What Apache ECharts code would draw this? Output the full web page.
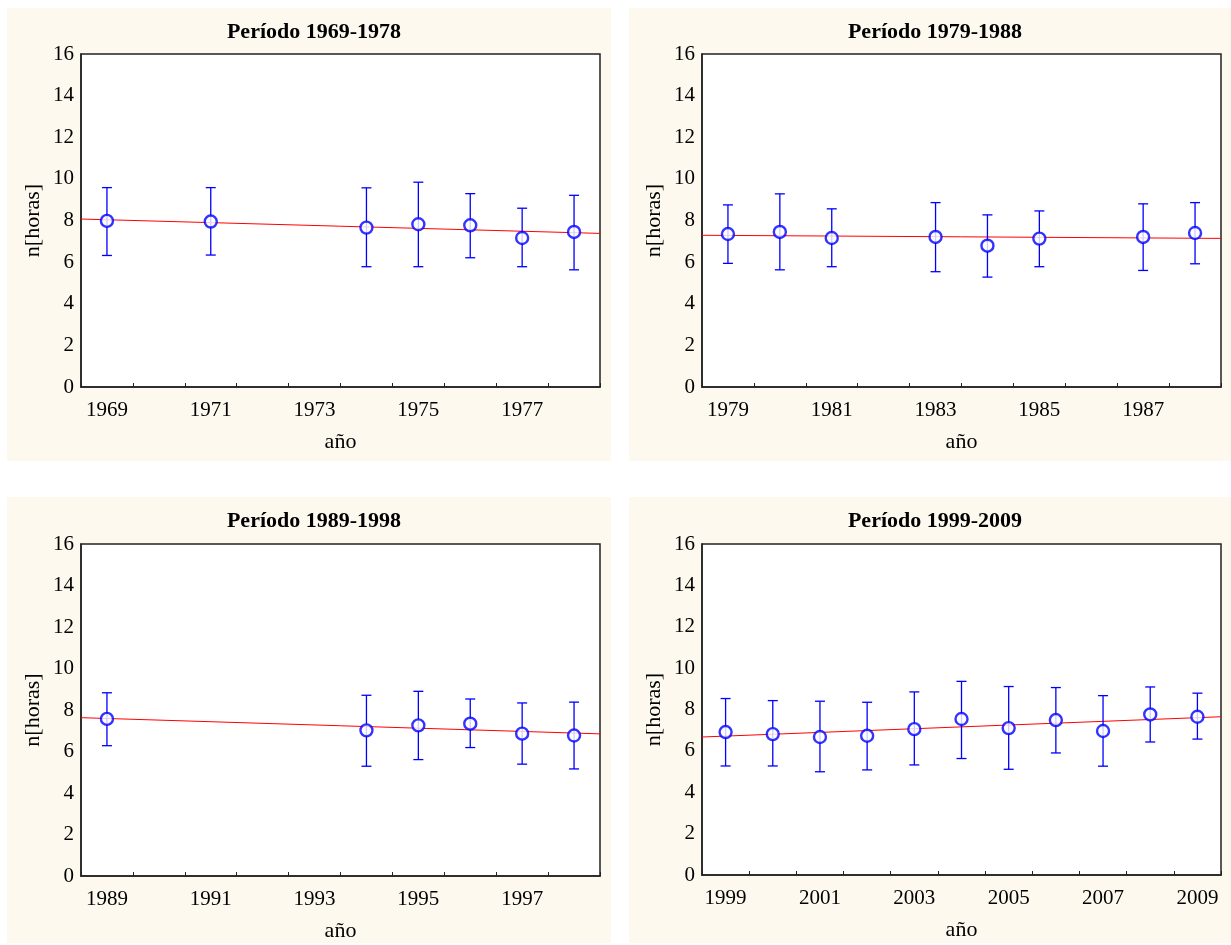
<!DOCTYPE html>
<html>
<head>
<meta charset="utf-8">
<script src="https://cdn.jsdelivr.net/npm/echarts@6/dist/echarts.min.js"></script>
<style>
  html, body { margin: 0; padding: 0; background: #ffffff; }
  #chart { width: 1231px; height: 945px; }
</style>
</head>
<body>
<div id="chart"></div>
<script>
// ---- Data ----
const titles = ['Período 1969-1978', 'Período 1979-1988', 'Período 1989-1998', 'Período 1999-2009'];

const cats1 = ['1969','1970','1971','1972','1973','1974','1975','1976','1977','1978'];
const cats2 = ['1979','1980','1981','1982','1983','1984','1985','1986','1987','1988'];
const cats3 = ['1989','1990','1991','1992','1993','1994','1995','1996','1997','1998'];
const cats4 = ['1999','2000','2001','2002','2003','2004','2005','2006','2007','2008','2009'];

const years1 = [1969, 1971, 1974, 1975, 1976, 1977, 1978];
const mean1  = [7.98, 7.95, 7.66, 7.82, 7.77, 7.16, 7.45];
const low1   = [6.32, 6.34, 5.78, 5.78, 6.21, 5.78, 5.63];
const high1  = [9.58, 9.58, 9.57, 9.84, 9.29, 8.59, 9.21];
const trend1 = [8.07, 7.38];

const years2 = [1979, 1980, 1981, 1983, 1984, 1985, 1987, 1988];
const mean2  = [7.35, 7.45, 7.16, 7.21, 6.79, 7.13, 7.21, 7.40];
const low2   = [5.94, 5.63, 5.78, 5.54, 5.28, 5.78, 5.60, 5.92];
const high2  = [8.75, 9.28, 8.56, 8.86, 8.27, 8.46, 8.80, 8.86];
const trend2 = [7.29, 7.14];

const years3 = [1989, 1994, 1995, 1996, 1997, 1998];
const mean3  = [7.57, 7.02, 7.26, 7.34, 6.86, 6.77];
const low3   = [6.28, 5.29, 5.61, 6.19, 5.39, 5.16];
const high3  = [8.83, 8.71, 8.90, 8.53, 8.34, 8.38];
const trend3 = [7.63, 6.85];

const years4 = [1999, 2000, 2001, 2002, 2003, 2004, 2005, 2006, 2007, 2008, 2009];
const mean4  = [6.91, 6.81, 6.67, 6.73, 7.05, 7.54, 7.10, 7.49, 6.96, 7.76, 7.65];
const low4   = [5.27, 5.27, 4.99, 5.08, 5.32, 5.63, 5.11, 5.90, 5.26, 6.43, 6.57];
const high4  = [8.53, 8.43, 8.40, 8.35, 8.85, 9.36, 9.11, 9.06, 8.67, 9.09, 8.79];
const trend4 = [6.67, 7.65];

const yTicks = [0, 2, 4, 6, 8, 10, 12, 14, 16];
const xName = 'año';
const yName = 'n[horas]';

// ---- Layout ----
const panels = [
  { bg: [7, 8, 604, 453],   grid: [81, 54, 519, 333] },
  { bg: [629, 8, 602, 453], grid: [702, 54, 519, 333] },
  { bg: [7, 497, 604, 446], grid: [81, 544, 519, 332] },
  { bg: [629, 497, 602, 446], grid: [702, 544, 519, 331] }
];
const datasets = [
  { cats: cats1, years: years1, mean: mean1, low: low1, high: high1, trend: trend1 },
  { cats: cats2, years: years2, mean: mean2, low: low2, high: high2, trend: trend2 },
  { cats: cats3, years: years3, mean: mean3, low: low3, high: high3, trend: trend3 },
  { cats: cats4, years: years4, mean: mean4, low: low4, high: high4, trend: trend4 }
];

const FONT = '"Liberation Serif", "DejaVu Serif", serif';
const BLUE = '#0000ff';
const RED = '#ff0000';

const chart = echarts.init(document.getElementById('chart'), null, { renderer: 'canvas' });

const option = {
  animation: false,
  backgroundColor: '#ffffff',
  graphic: { elements: panels.map(p => ({
    type: 'rect', z: -100, silent: true,
    shape: { x: p.bg[0], y: p.bg[1], width: p.bg[2], height: p.bg[3] },
    style: { fill: '#fdf9ee' }
  })) },
  title: panels.map((p, i) => ({
    text: titles[i],
    left: p.bg[0] + p.bg[2] / 2,
    top: p.bg[1] + 8,
    textAlign: 'center',
    textStyle: { fontFamily: FONT, fontSize: 22, fontWeight: 'bold', color: '#000' }
  })),
  grid: panels.map(p => ({
    left: p.grid[0], top: p.grid[1], width: p.grid[2], height: p.grid[3],
    show: true, backgroundColor: '#ffffff', borderColor: '#222', borderWidth: 1.5
  })),
  xAxis: [],
  yAxis: [],
  series: []
};

datasets.forEach((d, i) => {
  const first = Number(d.cats[0]);
  const last = Number(d.cats[d.cats.length - 1]);
  const xmin = first - 0.5, xmax = last + 0.5;
  // category axis for labels and ticks
  option.xAxis.push({
    type: 'category', gridIndex: i, position: 'bottom', data: d.cats, boundaryGap: true,
    name: xName, nameLocation: 'middle', nameGap: 44,
    nameTextStyle: { fontFamily: FONT, fontSize: 22, color: '#000' },
    axisLine: { show: true, lineStyle: { color: '#222', width: 1.5 } },
    axisTick: { show: true, inside: true, interval: 0, length: 4, lineStyle: { color: '#222' } },
    axisLabel: { interval: 1, margin: 13, fontFamily: FONT, fontSize: 21, color: '#000' },
    splitLine: { show: false }
  });
  // hidden value axis carrying the data
  option.xAxis.push({
    type: 'value', gridIndex: i, position: 'top', min: xmin, max: xmax, show: false,
    splitLine: { show: false }
  });
  option.yAxis.push({
    type: 'value', gridIndex: i, min: yTicks[0], max: yTicks[yTicks.length - 1], interval: 2,
    name: yName, nameLocation: 'middle', nameGap: 37,
    nameTextStyle: { fontFamily: FONT, fontSize: 22, color: '#000' },
    axisLine: { show: true, lineStyle: { color: '#222', width: 1.5 } },
    axisTick: { show: false },
    axisLabel: { margin: 7, fontFamily: FONT, fontSize: 21, color: '#000' },
    splitLine: { show: false }
  });
  const xIdx = i * 2 + 1;
  // trend line
  option.series.push({
    type: 'line', xAxisIndex: xIdx, yAxisIndex: i, z: 2,
    data: [[xmin, d.trend[0]], [xmax, d.trend[1]]],
    symbol: 'none', lineStyle: { color: RED, width: 1 }, silent: true
  });
  // error bars
  option.series.push({
    type: 'custom', xAxisIndex: xIdx, yAxisIndex: i, z: 3, silent: true,
    data: d.years.map((y, k) => [y, d.low[k], d.high[k]]),
    encode: { x: 0, y: [1, 2] },
    renderItem: function (params, api) {
      const x = api.value(0);
      const lo = api.coord([x, api.value(1)]);
      const hi = api.coord([x, api.value(2)]);
      const hw = 5;
      const st = { stroke: BLUE, lineWidth: 1.3 };
      return {
        type: 'group',
        children: [
          { type: 'line', shape: { x1: hi[0], y1: hi[1], x2: lo[0], y2: lo[1] }, style: st },
          { type: 'line', shape: { x1: hi[0] - hw, y1: hi[1], x2: hi[0] + hw, y2: hi[1] }, style: st },
          { type: 'line', shape: { x1: lo[0] - hw, y1: lo[1], x2: lo[0] + hw, y2: lo[1] }, style: st }
        ]
      };
    }
  });
  // means
  option.series.push({
    type: 'scatter', xAxisIndex: xIdx, yAxisIndex: i, z: 4, silent: true,
    data: d.years.map((y, k) => [y, d.mean[k]]),
    symbol: 'circle', symbolSize: 12,
    itemStyle: { color: '#ffffff', borderColor: BLUE, borderWidth: 2.4 }
  });
});

chart.setOption(option);
</script>
</body>
</html>
